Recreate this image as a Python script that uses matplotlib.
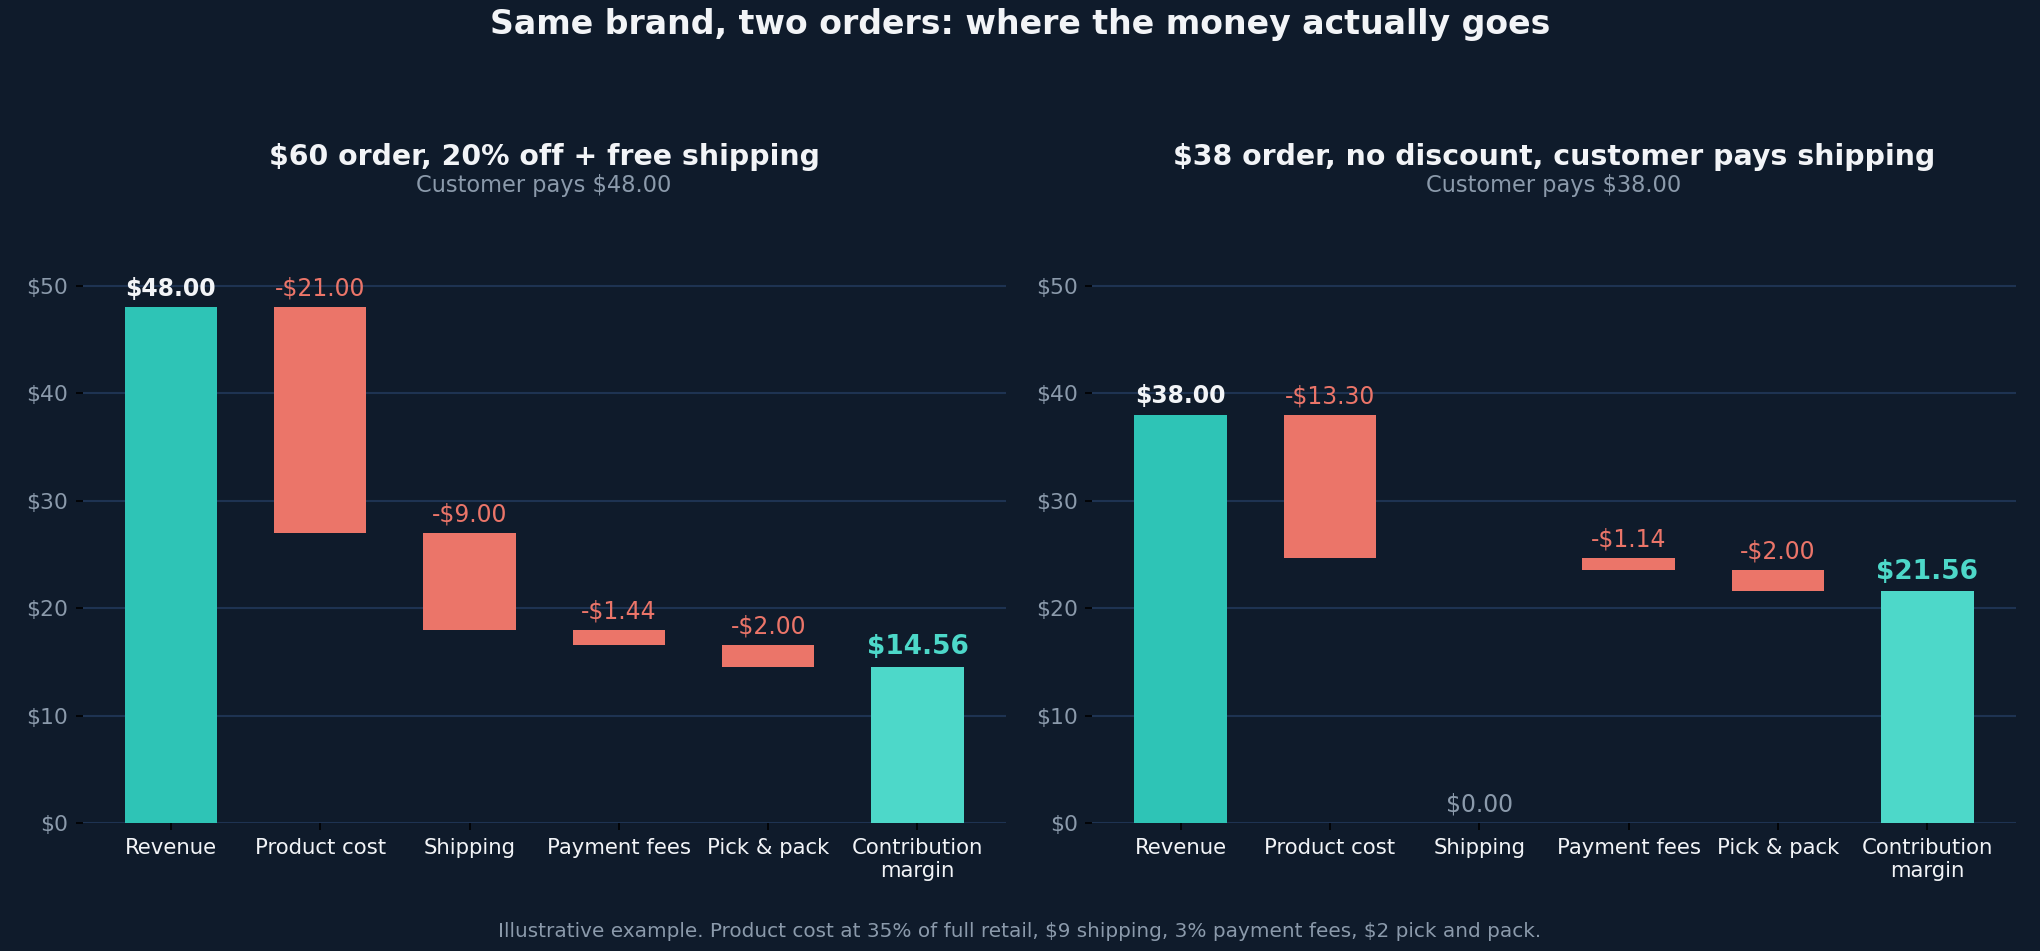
import matplotlib.pyplot as plt
from matplotlib.ticker import FuncFormatter

categories = ["Revenue", "Product cost", "Shipping", "Payment fees", "Pick & pack", "Contribution\nmargin"]

# order A: $60 list, 20% off, free shipping
revenue_a = 48.00
costs_a = [21.00, 9.00, 1.44, 2.00]
# order B: $38, no discount, customer pays shipping
revenue_b = 38.00
costs_b = [13.30, 0.00, 1.14, 2.00]

titles = ["$60 order, 20% off + free shipping", "$38 order, no discount, customer pays shipping"]
subtitles = ["Customer pays $48.00", "Customer pays $38.00"]

BG = "#0f1b2b"
TEAL = "#2ec4b6"
MARGIN = "#4dd8c9"
RED = "#eb7569"
GRID = "#1e3352"
GRAY = "#8b9aab"
WHITE = "#f2f4f7"

plt.rcParams["font.family"] = "DejaVu Sans"
plt.rcParams["text.parse_math"] = False

fig = plt.figure(figsize=(13.6, 6.34), dpi=150, facecolor=BG)
ax1 = fig.add_axes([0.0405, 0.1346, 0.4525, 0.651])
ax2 = fig.add_axes([0.5355, 0.1346, 0.4525, 0.651])


def waterfall(ax, revenue, costs, title, subtitle):
    ax.set_facecolor(BG)
    x = list(range(len(categories)))
    margin = revenue - sum(costs)

    ax.bar(x[0], revenue, width=0.62, color=TEAL, zorder=3)
    ax.annotate(f"${revenue:.2f}", (x[0], revenue), xytext=(0, 3), textcoords="offset points",
                ha="center", va="bottom", color=WHITE, fontsize=11.3, fontweight="bold")

    level = revenue
    for i, c in enumerate(costs, start=1):
        if c > 0:
            ax.bar(x[i], -c, bottom=level, width=0.62, color=RED, zorder=3)
            ax.annotate(f"-${c:.2f}", (x[i], level), xytext=(0, 3), textcoords="offset points",
                        ha="center", va="bottom", color=RED, fontsize=11.3)
        else:
            ax.annotate(f"${c:.2f}", (x[i], 0), xytext=(0, 3), textcoords="offset points",
                        ha="center", va="bottom", color=GRAY, fontsize=11.3)
        level -= c

    ax.bar(x[-1], margin, width=0.62, color=MARGIN, zorder=3)
    ax.annotate(f"${margin:.2f}", (x[-1], margin), xytext=(0, 3), textcoords="offset points",
                ha="center", va="bottom", color=MARGIN, fontsize=12.7, fontweight="bold")

    ax.set_ylim(0, 57.6)
    ax.set_yticks([0, 10, 20, 30, 40, 50])
    ax.yaxis.set_major_formatter(FuncFormatter(lambda v, p: f"${v:.0f}"))
    ax.set_xticks(x)
    ax.set_xticklabels(categories)
    ax.tick_params(axis="x", colors="black", labelcolor=WHITE, labelsize=10.2)
    ax.tick_params(axis="y", colors="black", labelcolor=GRAY, labelsize=10.5)
    ax.grid(axis="y", color=GRID, linewidth=1, zorder=0)
    ax.set_axisbelow(True)
    for s in ax.spines.values():
        s.set_visible(False)

    ax.text(0.5, 1.076, title, transform=ax.transAxes, ha="center", va="center",
            color=WHITE, fontsize=13.6, fontweight="bold")
    ax.text(0.5, 1.030, subtitle, transform=ax.transAxes, ha="center", va="center",
            color=GRAY, fontsize=10.8)


waterfall(ax1, revenue_a, costs_a, titles[0], subtitles[0])
waterfall(ax2, revenue_b, costs_b, titles[1], subtitles[1])

fig.text(0.5, 0.974, "Same brand, two orders: where the money actually goes", ha="center", va="center",
         color=WHITE, fontsize=15.9, fontweight="bold")
fig.text(0.5, 0.020, "Illustrative example. Product cost at 35% of full retail, $9 shipping, 3% payment fees, $2 pick and pack.",
         ha="center", va="center", color=GRAY, fontsize=9.6)

fig.savefig("out.png", dpi=150, facecolor=BG)
